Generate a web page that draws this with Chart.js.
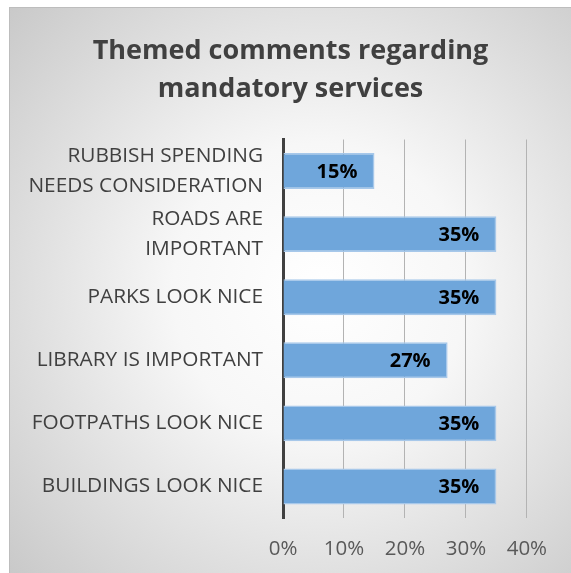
<!DOCTYPE html>
<html>
<head>
<meta charset="utf-8">
<script src="https://cdn.jsdelivr.net/npm/chart.js@4"></script>
<style>
  html, body { margin: 0; padding: 0; background: #fff; }
  #wrap { width: 571px; height: 573px; }
</style>
</head>
<body>
<div id="wrap"><canvas id="chart"></canvas></div>
<script>
const categories = [
    ['RUBBISH SPENDING', 'NEEDS CONSIDERATION'],
    ['ROADS ARE', 'IMPORTANT'],
    'PARKS LOOK NICE',
    'LIBRARY IS IMPORTANT',
    'FOOTPATHS LOOK NICE',
    'BUILDINGS LOOK NICE'
];
const shares = [15, 35, 35, 27, 35, 35];
const xTicks = [0, 10, 20, 30, 40];

const FONT = "'Open Sans', sans-serif";

// grey radial panel behind everything
const panelBackground = {
    id: 'panelBackground',
    beforeDraw(chart) {
        const { ctx, width, height } = chart;
        ctx.save();
        ctx.fillStyle = '#ffffff';
        ctx.fillRect(0, 0, width, height);
        const g = ctx.createRadialGradient(320, 290, 0, 320, 290, 420);
        g.addColorStop(0, '#ffffff');
        g.addColorStop(0.35, '#f7f7f7');
        g.addColorStop(1, '#c9c9c9');
        ctx.fillStyle = g;
        ctx.fillRect(9, 7, width - 9, height - 7);
        ctx.strokeStyle = '#bdbdbd';
        ctx.lineWidth = 1;
        ctx.strokeRect(9.5, 7.5, width, height);
        ctx.restore();
    }
};

// percentage text at the inner end of each bar
const barValues = {
    id: 'barValues',
    afterDatasetsDraw(chart) {
        const { ctx } = chart;
        const meta = chart.getDatasetMeta(0);
        ctx.save();
        ctx.font = 'bold 20px ' + FONT;
        ctx.fillStyle = '#000';
        ctx.textAlign = 'right';
        ctx.textBaseline = 'middle';
        meta.data.forEach((bar, i) => {
            ctx.fillText(shares[i] + '%', bar.x - 17, bar.y + 1);
        });
        ctx.restore();
    }
};

new Chart(document.getElementById('chart'), {
    type: 'bar',
    data: {
        labels: categories,
        datasets: [{
            data: shares,
            backgroundColor: '#6fa6db',
            borderColor: '#a7c8ea',
            borderWidth: 1.5,
            categoryPercentage: 0.57,
            barPercentage: 1
        }]
    },
    options: {
        indexAxis: 'y',
        responsive: true,
        maintainAspectRatio: false,
        animation: false,
        layout: { padding: { left: 20, right: 10, top: 0, bottom: 8 } },
        plugins: {
            legend: { display: false },
            tooltip: { enabled: false },
            title: {
                display: true,
                text: ['Themed comments regarding', 'mandatory services'],
                color: '#404040',
                font: { family: FONT, size: 27, weight: 'bold', lineHeight: 1.38 },
                padding: { top: 33, bottom: 32 }
            }
        },
        scales: {
            x: {
                min: 0,
                // the plot runs a little past the last gridline, empty
                max: 45.6,
                afterBuildTicks(scale) {
                    scale.ticks = xTicks.map(v => ({ value: v }));
                },
                afterFit(scale) { scale.height = 47; },
                ticks: {
                    color: '#595959',
                    font: { family: FONT, size: 20.5 },
                    padding: 19,
                    callback: v => v + '%'
                },
                grid: {
                    color: ctx => ctx.tick && ctx.tick.value === 0 ? 'rgba(0,0,0,0)' : '#b3b3b3',
                    lineWidth: 1,
                    drawTicks: false
                },
                border: { display: false }
            },
            y: {
                afterFit(scale) { scale.width = 263; },
                ticks: {
                    autoSkip: false,
                    color: '#404040',
                    font: { family: FONT, size: 20.8, lineHeight: 1.45 },
                    padding: 20
                },
                grid: { display: false, drawTicks: false },
                border: { display: true, color: '#404040', width: 3 }
            }
        }
    },
    plugins: [panelBackground, barValues]
});
</script>
</body>
</html>
